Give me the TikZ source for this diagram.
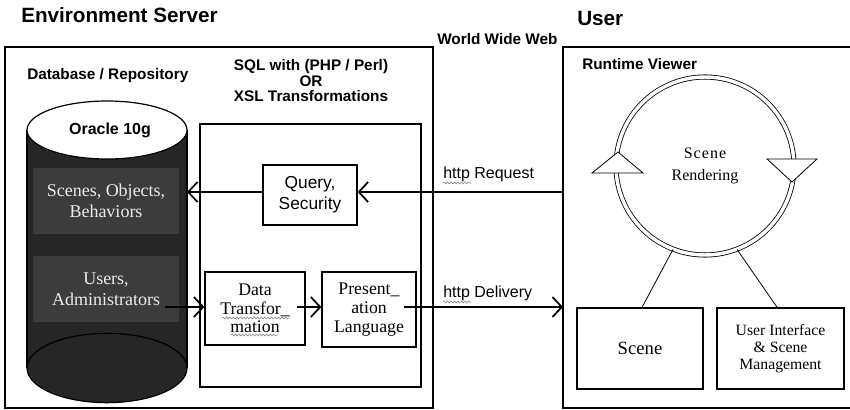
\documentclass[tikz,border=0pt]{standalone}
\usepackage{fontspec}
\setmainfont{Liberation Serif}
\setsansfont{Liberation Sans}
\usetikzlibrary{arrows.meta,decorations.pathmorphing}
\definecolor{cyl}{HTML}{262626}
\definecolor{dbox}{HTML}{3C3C3C}
\definecolor{dtext}{HTML}{EBEBEB}
\begin{document}
\begin{tikzpicture}[x=0.75pt,y=-0.75pt,
  frame/.style={draw, line width=0.9pt, inner sep=0pt},
  box/.style={draw, line width=0.9pt, fill=white, align=center, inner sep=0pt},
  darkbox/.style={draw=black!85, line width=0.9pt, fill=dbox, text=dtext, align=center, inner sep=0pt,
    minimum width=111pt, minimum height=51pt, font=\fontsize{13.5}{15.5}\selectfont},
  heading/.style={font=\sffamily\bfseries\fontsize{15.5}{18}\selectfont, inner sep=0pt},
  lbl/.style={font=\sffamily\bfseries\fontsize{11.5}{13.5}\selectfont, inner sep=0pt},
  httplbl/.style={font=\sffamily\fontsize{12}{14}\selectfont, inner sep=0pt},
  flow/.style={line width=1.3pt, -{Straight Barb[length=7pt,width=15pt,line width=1.3pt]}},
  squig/.style={draw=black!45, line width=0.5pt, decorate,
    decoration={snake, amplitude=0.7pt, segment length=2.6pt}},
  thin/.style={line width=0.6pt}
]
\useasboundingbox (0,0) rectangle (850,410);

% headings
\node[heading, anchor=base west] (hserver) at (21,23) {Environment Server};
\node[heading, anchor=base west] (huser) at (577,26) {User};
\node[lbl, anchor=base west] (www) at (437,45) {World Wide Web};

% server frame
\node[frame, minimum width=321pt, minimum height=270.75pt] (server) at (219,227.5) {};
% user frame (right edge cut by the picture border)
\coordinate (uTL) at (563,47);
\coordinate (uBL) at (563,408);
\draw[line width=0.9pt] (850,47) -- (uTL) -- (uBL) -- (850,408);

\node[lbl, anchor=base west] (dbrepo) at (27,80) {Database / Repository};
\node[lbl, anchor=base] (sql1) at (311,71) {SQL with (PHP / Perl)};
\node[lbl, anchor=base] (sql2) at (311,87) {OR};
\node[lbl, anchor=base] (sql3) at (311,102) {XSL Transformations};
\node[lbl, anchor=base west] (rtv) at (582,70) {Runtime Viewer};

% cylinder
\coordinate (cylR) at (187,130);
\fill[cyl] (27,130) rectangle (187,368);
\draw[line width=0.9pt, fill=cyl] (107,368) ellipse [x radius=60pt, y radius=26pt];
\draw[line width=0.9pt] (27,130) -- (27,368) (187,130) -- (187,368);
\draw[line width=0.9pt, fill=white] (107,130) ellipse [x radius=60pt, y radius=21.75pt];
\node[font=\sffamily\bfseries\fontsize{12}{14}\selectfont, inner sep=0pt] (oracle) at (110,130) {Oracle 10g};

\node[darkbox] (scenes) at (106,201) {Scenes, Objects,\\Behaviors};
\node[darkbox] (users) at (106,289) {Users,\\Administrators};

% SQL frame and its boxes
\node[frame, minimum width=165.75pt, minimum height=197.25pt] (sql) at (310.5,255.5) {};
\node[box, minimum width=70.5pt, minimum height=45pt, font=\sffamily\fontsize{13}{15.75}\selectfont] (query) at (310,195) {Query,\\Security};
\node[box, minimum width=75pt, minimum height=54.75pt, font=\fontsize{13.3}{14}\selectfont] (data) at (255,308.5) {Data\\Transfor\_\\mation};
\node[box, minimum width=70.5pt, minimum height=56.25pt, font=\fontsize{13.3}{14}\selectfont] (pres) at (369,309.5) {Present\_\\ation\\Language};

% spell-check squiggles
\draw[squig] (222,318) -- (290,318);
\draw[squig] (231,335) -- (278,335);

% runtime viewer
\node[circle, draw, thin, double, double distance=2.6pt, minimum size=133.5pt, inner sep=0pt,
  align=center, font=\fontsize{12}{16.5}\selectfont] (ring) at (705,166) {S\hspace{0.8pt}c\hspace{0.8pt}e\hspace{0.8pt}n\hspace{0.8pt}e\\Rendering};
\draw[thin, fill=white] (618,152) -- (643,173) -- (592,173) -- cycle;
\draw[thin, fill=white] (767,159) -- (817,159) -- (792,182) -- cycle;

\node[box, minimum width=94.5pt, minimum height=60.75pt, font=\fontsize{14}{16}\selectfont] (scene) at (640,348.5) {Scene};
\node[box, minimum width=95.25pt, minimum height=60.75pt, font=\fontsize{11.8}{13}\selectfont] (ui) at (780.5,348.5) {User Interface\\\& Scene\\Management};
\draw[thin] (ring.249) -- ([xshift=1.5pt]scene.north);
\draw[thin] (ring.291) -- ([xshift=-2.5pt]ui.north);

% http labels
\node[httplbl, anchor=base west] (hreq) at (443,178) {http Request};
\node[httplbl, anchor=base west] (hdel) at (443,297) {http Delivery};
\draw[squig] (443,183) -- (471,183);
\draw[squig] (443,302) -- (471,302);

% flows
\coordinate (u1) at (165,307);
\coordinate (d1) at (297,307);
\coordinate (p1) at (404,307);
\draw[flow] (uTL |- 0,192) -- (query.east |- 0,192);
\draw[flow] (query.west |- 0,192) -- (cylR |- 0,192);
\draw[flow] (u1) -- (data.west |- u1);
\draw[flow] (d1) -- (pres.west |- d1);
\draw[flow] (p1) -- (uTL |- p1);
\end{tikzpicture}
\end{document}
